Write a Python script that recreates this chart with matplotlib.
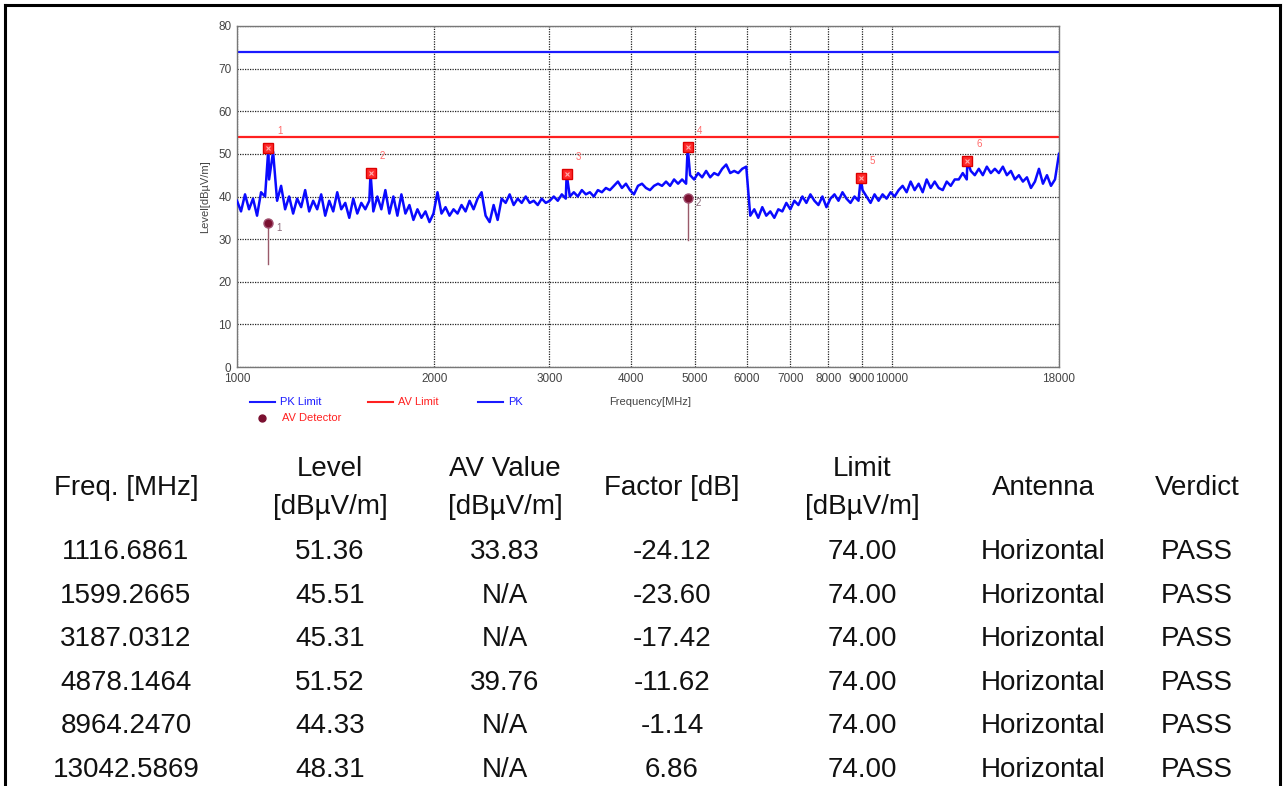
import matplotlib
matplotlib.use("Agg")
import matplotlib.pyplot as plt
from matplotlib.lines import Line2D
import numpy as np

plt.rcParams["font.family"] = ["Liberation Sans", "DejaVu Sans"]

# =========================================================================
# Data
# =========================================================================

# PK trace, sampled on a log sweep from 1000 to 18000 MHz
pk_level = [
    39.0, 36.5, 40.5, 37.0, 39.5, 35.5, 41.0, 40.0, 44.0, 50.5,
    39.0, 42.5, 37.0, 40.0, 36.0, 39.5, 37.5, 41.5, 36.5, 39.0,
    37.0, 40.5, 35.5, 39.0, 36.5, 41.0, 37.0, 38.5, 35.0, 39.5,
    36.0, 38.5, 37.0, 39.0, 36.5, 40.0, 37.0, 41.5, 36.0, 40.0,
    35.5, 40.5, 36.0, 38.0, 34.5, 37.0, 35.0, 36.5, 34.0, 36.0,
    41.0, 36.0, 37.5, 35.5, 37.0, 36.0, 38.0, 36.5, 39.0, 37.0,
    39.5, 41.0, 35.5, 34.0, 38.0, 34.5, 39.5, 38.5, 40.5, 38.0,
    39.5, 38.5, 40.0, 38.5, 39.0, 38.0, 39.5, 38.5, 39.0, 40.0,
    39.0, 40.5, 39.5, 40.0, 41.0, 40.0, 41.5, 40.5, 41.0, 40.0,
    41.5, 41.0, 42.0, 41.5, 42.5, 43.5, 42.0, 43.0, 41.5, 40.5,
    42.5, 43.0, 42.0, 41.5, 42.5, 43.0, 42.5, 43.5, 42.5, 44.0,
    43.0, 44.0, 43.0, 45.0, 44.0, 45.5, 44.5, 46.0, 44.5, 45.5,
    45.0, 46.5, 47.5, 45.5, 46.0, 45.5, 46.5, 47.0, 35.5, 37.0,
    35.0, 37.5, 35.5, 36.5, 35.0, 37.0, 36.5, 38.5, 37.0, 39.0,
    38.0, 40.0, 38.5, 40.5, 39.0, 38.0, 40.0, 37.5, 39.5, 40.5,
    39.0, 41.0, 39.5, 38.5, 40.0, 39.0, 41.5, 40.0, 38.5, 40.5,
    39.0, 40.5, 39.5, 41.0, 40.0, 41.5, 42.5, 41.0, 43.5, 41.5,
    43.0, 41.0, 44.0, 42.0, 43.5, 42.0, 41.5, 43.5, 42.5, 44.0,
    44.0, 45.5, 44.0, 46.0, 45.0, 46.5, 45.0, 47.0, 45.5, 46.5,
    45.5, 47.0, 45.0, 46.0, 44.0, 45.0, 43.5, 44.5, 42.0, 43.5,
    46.5, 43.0, 45.0, 42.5, 44.0, 50.0,
]

# Table / marker data
freq_mhz = [1116.6861, 1599.2665, 3187.0312, 4878.1464, 8964.2470, 13042.5869]
level = [51.36, 45.51, 45.31, 51.52, 44.33, 48.31]
av_value = [33.83, None, None, 39.76, None, None]
factor = [-24.12, -23.60, -17.42, -11.62, -1.14, 6.86]
limit = [74.00] * 6
antenna = ["Horizontal"] * 6
verdict = ["PASS"] * 6

# bottom of the AV detector stems
av_floor = [24.2, 29.8]

pk_limit = 74.0
av_limit = 54.0

x_ticks = [1000, 2000, 3000, 4000, 5000, 6000, 7000, 8000, 9000, 10000, 18000]
y_ticks = [0, 10, 20, 30, 40, 50, 60, 70, 80]

# =========================================================================
# Figure
# =========================================================================

W, H = 1285, 786
fig = plt.figure(figsize=(W / 100, H / 100), dpi=100)


def fx(px):
    return px / W


def fy(py):
    return 1 - py / H


ax = fig.add_axes([fx(237), fy(367), 822 / W, 341 / H])
ax.set_xscale("log")
ax.set_xlim(1000, 18000)
ax.set_ylim(0, 80)

# PK trace with marker peaks merged in
sweep = np.geomspace(1000, 18000, len(pk_level))
tr_f = np.concatenate([sweep, freq_mhz])
tr_v = np.concatenate([pk_level, level])
order = np.argsort(tr_f)
ax.plot(tr_f[order], tr_v[order], color="#0a0aff", lw=1.8, zorder=3)

# limit lines
ax.axhline(pk_limit, color="#1a1aff", lw=1.6, zorder=2)
ax.axhline(av_limit, color="#ff2020", lw=1.6, zorder=2)

# PK markers
ax.plot(freq_mhz, level, ls="none", marker="s", ms=6.5, color="#ff2a2a",
        mec="#dd0000", zorder=5)
ax.plot(freq_mhz, level, ls="none", marker="x", ms=3.5, mew=0.8,
        color="#ffb0b0", zorder=6)
for i, (f, v) in enumerate(zip(freq_mhz, level)):
    ax.annotate(str(i + 1), (f, v), xytext=(6.5, 10), textcoords="offset points",
                fontsize=7, color="#ff6a6a", zorder=6)

# AV detector markers
av_f = [f for f, a in zip(freq_mhz, av_value) if a is not None]
av_v = [a for a in av_value if a is not None]
for f, a, b in zip(av_f, av_v, av_floor):
    ax.plot([f, f], [b, a], color="#9a5a6a", lw=1.0, zorder=4)
ax.plot(av_f, av_v, ls="none", marker="o", ms=6.5, color="#7a1030",
        mec="#a05070", zorder=6)
for i, (f, v) in enumerate(zip(av_f, av_v)):
    ax.annotate(str(i + 1), (f, v), xytext=(6, -6), textcoords="offset points",
                fontsize=7, color="#8a6a7a", zorder=6)

# axes styling
ax.set_xticks(x_ticks)
ax.set_xticklabels([str(t) for t in x_ticks])
ax.xaxis.set_minor_locator(matplotlib.ticker.NullLocator())
ax.set_yticks(y_ticks)
ax.tick_params(length=0, labelsize=8.5, labelcolor="#444444", pad=4)
ax.grid(True, color="#222222", ls=(0, (1, 1)), lw=0.9)
for sp in ax.spines.values():
    sp.set_color("#777777")
    sp.set_linewidth(1.0)
ax.set_ylabel("Level[dBµV/m]", fontsize=8, color="#444444", labelpad=6)
fig.text(fx(650), fy(402), "Frequency[MHz]", fontsize=8, color="#444444",
         ha="center", va="center")

# legend drawn by hand
leg_items = [
    (250, 402, "PK Limit", "#1a1aff"),
    (368, 402, "AV Limit", "#ff2020"),
    (478, 402, "PK", "#1a1aff"),
]
for x0, y0, name, c in leg_items:
    fig.add_artist(Line2D([fx(x0), fx(x0 + 25)], [fy(y0), fy(y0)], color=c, lw=1.5))
    fig.text(fx(x0 + 30), fy(y0), name, fontsize=8, color=c, va="center")
fig.add_artist(Line2D([fx(262)], [fy(418)], marker="o", ms=5, color="#7a1030"))
fig.text(fx(282), fy(418), "AV Detector", fontsize=8, color="#ff2020", va="center")

# =========================================================================
# Table
# =========================================================================

col_x = [126, 330, 505, 672, 862, 1043, 1197]
headers = ["Freq. [MHz]", "Level\n[dBµV/m]", "AV Value\n[dBµV/m]", "Factor [dB]",
           "Limit\n[dBµV/m]", "Antenna", "Verdict"]
for x, h in zip(col_x, headers):
    fig.text(fx(x), fy(488), h, fontsize=20, ha="center", va="center",
             linespacing=1.55, color="#111111")

row_y = [552, 596, 639, 683, 726, 770]
for r in range(len(freq_mhz)):
    cells = [
        f"{freq_mhz[r]:.4f}",
        f"{level[r]:.2f}",
        "N/A" if av_value[r] is None else f"{av_value[r]:.2f}",
        f"{factor[r]:.2f}",
        f"{limit[r]:.2f}",
        antenna[r],
        verdict[r],
    ]
    for x, t in zip(col_x, cells):
        fig.text(fx(x), fy(row_y[r]), t, fontsize=20, ha="center", va="center",
                 color="#111111")

# outer frame (left, top, right)
for xs, ys in [([5, 5], [5, 786]), ([5, 1280], [5, 5]), ([1280, 1280], [5, 786])]:
    fig.add_artist(Line2D([fx(xs[0]), fx(xs[1])], [fy(ys[0]), fy(ys[1])],
                          color="black", lw=2.2))

fig.savefig("out.png", dpi=100)
